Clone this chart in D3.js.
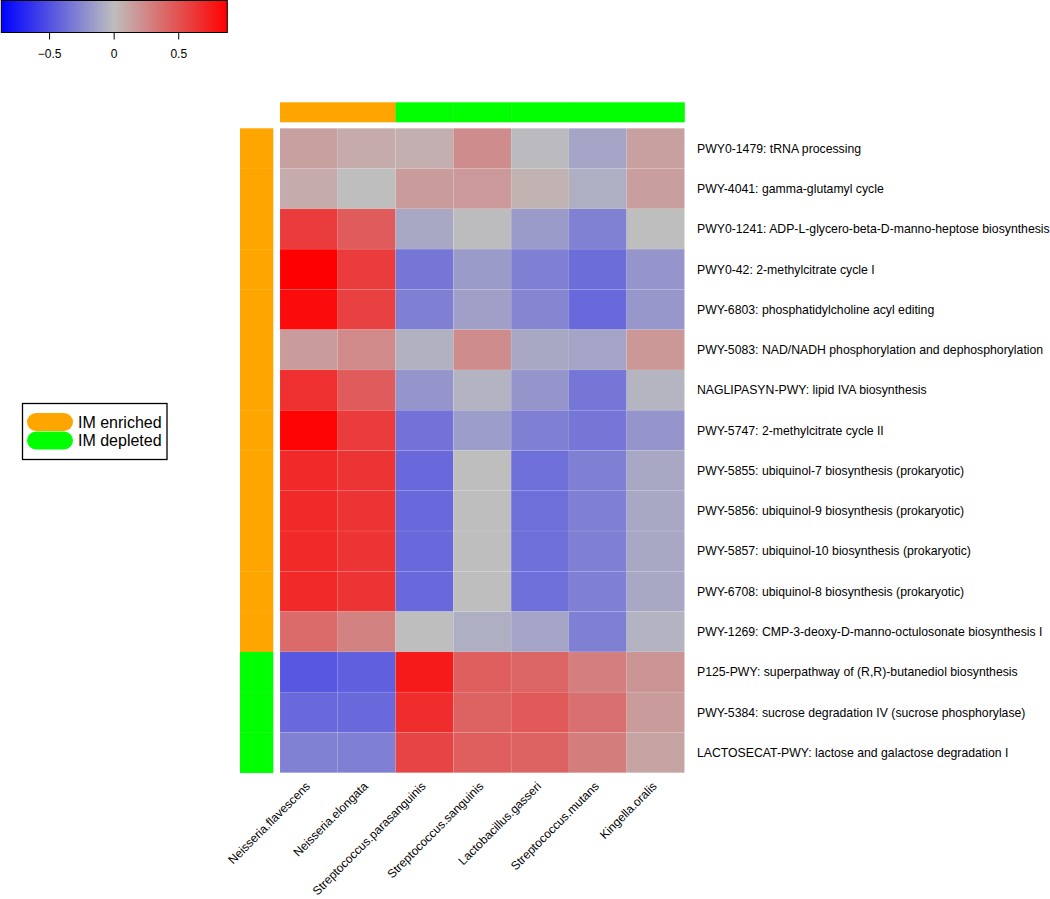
<!DOCTYPE html>
<html>
<head>
<meta charset="utf-8">
<script src="https://cdn.jsdelivr.net/npm/d3@7"></script>
<style>
body{margin:0;background:#fff;}
text{font-family:Arial,"Liberation Sans",sans-serif;fill:#000;}
</style>
</head>
<body>
<div id="chart"></div>
<script>
//heatmap of pathway correlations per species
var species=["Neisseria.flavescens","Neisseria.elongata","Streptococcus.parasanguinis","Streptococcus.sanguinis","Lactobacillus.gasseri","Streptococcus.mutans","Kingella.oralis"];
var speciesGroup=["IM enriched","IM enriched","IM depleted","IM depleted","IM depleted","IM depleted","IM depleted"];
var pathways=["PWY0-1479: tRNA processing","PWY-4041: gamma-glutamyl cycle","PWY0-1241: ADP-L-glycero-beta-D-manno-heptose biosynthesis","PWY0-42: 2-methylcitrate cycle I","PWY-6803: phosphatidylcholine acyl editing","PWY-5083: NAD/NADH phosphorylation and dephosphorylation","NAGLIPASYN-PWY: lipid IVA biosynthesis","PWY-5747: 2-methylcitrate cycle II","PWY-5855: ubiquinol-7 biosynthesis (prokaryotic)","PWY-5856: ubiquinol-9 biosynthesis (prokaryotic)","PWY-5857: ubiquinol-10 biosynthesis (prokaryotic)","PWY-6708: ubiquinol-8 biosynthesis (prokaryotic)","PWY-1269: CMP-3-deoxy-D-manno-octulosonate biosynthesis I","P125-PWY: superpathway of (R,R)-butanediol biosynthesis","PWY-5384: sucrose degradation IV (sucrose phosphorylase)","LACTOSECAT-PWY: lactose and galactose degradation I"];
var pathwayGroup=["IM enriched","IM enriched","IM enriched","IM enriched","IM enriched","IM enriched","IM enriched","IM enriched","IM enriched","IM enriched","IM enriched","IM enriched","IM enriched","IM depleted","IM depleted","IM depleted"];
var values=[
 [0.14,0.09,0.07,0.23,-0.02,-0.12,0.14],
 [0.09,0.00,0.16,0.17,0.05,-0.07,0.15],
 [0.60,0.46,-0.10,-0.01,-0.16,-0.28,0.00],
 [0.88,0.60,-0.33,-0.16,-0.29,-0.37,-0.19],
 [0.83,0.58,-0.29,-0.14,-0.26,-0.39,-0.18],
 [0.16,0.24,-0.06,0.23,-0.10,-0.12,0.18],
 [0.66,0.46,-0.19,-0.05,-0.19,-0.33,-0.04],
 [0.86,0.60,-0.35,-0.15,-0.29,-0.33,-0.19],
 [0.69,0.64,-0.39,0.00,-0.36,-0.29,-0.10],
 [0.69,0.64,-0.39,0.00,-0.36,-0.29,-0.10],
 [0.69,0.64,-0.39,0.00,-0.36,-0.29,-0.10],
 [0.69,0.64,-0.39,0.00,-0.36,-0.29,-0.10],
 [0.39,0.28,0.00,-0.07,-0.12,-0.29,-0.05],
 [-0.47,-0.43,0.76,0.44,0.41,0.29,0.19],
 [-0.39,-0.39,0.67,0.42,0.47,0.36,0.16],
 [-0.28,-0.29,0.56,0.44,0.42,0.30,0.12]
];
var groups=["IM enriched","IM depleted"];
var groupColors=["#FFA500","#00FF00"];
var colorTicks=[-0.5,0,0.5];
var colorDomain=[-0.87,0,0.88];

var width=1050,height=899;
var svg=d3.select("#chart").append("svg").attr("width",width).attr("height",height);

var color=d3.scaleLinear().domain(colorDomain).range(["#0000FF","#BEBEBE","#FF0000"]).interpolate(d3.interpolateRgb);
var gcol=d3.scaleOrdinal().domain(groups).range(groupColors);

var x=d3.scaleBand().domain(species).range([280,684.5]);
var y=d3.scaleBand().domain(pathways).range([128.3,772.7]);

//cells
values.forEach(function(row,i){
	svg.selectAll(null).data(row).enter().append("rect")
		.attr("x",function(d,j){return x(species[j]);})
		.attr("y",y(pathways[i]))
		.attr("width",x.bandwidth())
		.attr("height",y.bandwidth())
		.attr("fill",function(d){return color(d);})
		.attr("stroke","rgba(255,255,255,0.12)")
		.attr("stroke-width",0.6);
});

//column annotation
svg.selectAll(".colAnn").data(species).enter().append("rect")
	.attr("x",function(d){return x(d);})
	.attr("y",102.3)
	.attr("width",x.bandwidth()+0.3)
	.attr("height",20)
	.attr("fill",function(d,i){return gcol(speciesGroup[i]);});

//row annotation
svg.selectAll(".rowAnn").data(pathways).enter().append("rect")
	.attr("x",240)
	.attr("y",function(d){return y(d);})
	.attr("width",33.3)
	.attr("height",y.bandwidth()+0.3)
	.attr("fill",function(d,i){return gcol(pathwayGroup[i]);});

//row labels
svg.selectAll(".rowLab").data(pathways).enter().append("text")
	.attr("x",697)
	.attr("y",function(d){return y(d)+y.bandwidth()/2;})
	.attr("dy","0.35em")
	.attr("font-size","12.25px")
	.text(function(d){return d;});

//column labels
svg.selectAll(".colLab").data(species).enter().append("text")
	.attr("transform",function(d){return "translate("+(x(d)+x.bandwidth()/2-1)+",784) rotate(-45)";})
	.attr("text-anchor","end")
	.attr("dy","0.35em")
	.attr("font-size","12px")
	.text(function(d){return d;});

//colour key
var defs=svg.append("defs");
var grad=defs.append("linearGradient").attr("id","key").attr("x1","0%").attr("x2","100%");
d3.range(0,1.0001,0.05).forEach(function(t){
	var v=colorDomain[0]+t*(colorDomain[2]-colorDomain[0]);
	grad.append("stop").attr("offset",(t*100)+"%").attr("stop-color",color(v));
});
var kx=d3.scaleLinear().domain([colorDomain[0],colorDomain[2]]).range([1.3,227.3]);
svg.append("rect").attr("x",1.3).attr("y",0.5).attr("width",226).attr("height",32)
	.attr("fill","url(#key)").attr("stroke","#000").attr("stroke-width",1);
svg.append("g").attr("transform","translate(0,32.5)")
	.call(d3.axisBottom(kx).tickValues(colorTicks).tickSize(7).tickFormat(d3.format("")))
	.call(function(g){g.select(".domain").remove();})
	.call(function(g){g.selectAll("text").attr("font-size","12px").attr("font-family","Arial,'Liberation Sans',sans-serif").attr("dy","1.25em");});

//group legend
svg.append("rect").attr("x",22.5).attr("y",403.5).attr("width",144.5).attr("height",56)
	.attr("fill","#fff").attr("stroke","#000").attr("stroke-width",1.3);
var leg=svg.selectAll(".leg").data(groups).enter().append("g")
	.attr("transform",function(d,i){return "translate(27,"+(413+i*18.5)+")";});
leg.append("rect").attr("width",46).attr("height",18).attr("rx",9)
	.attr("fill",function(d){return gcol(d);});
leg.append("text").attr("x",51).attr("y",9).attr("dy","0.36em").attr("font-size","16px")
	.text(function(d){return d;});
</script>
</body>
</html>
